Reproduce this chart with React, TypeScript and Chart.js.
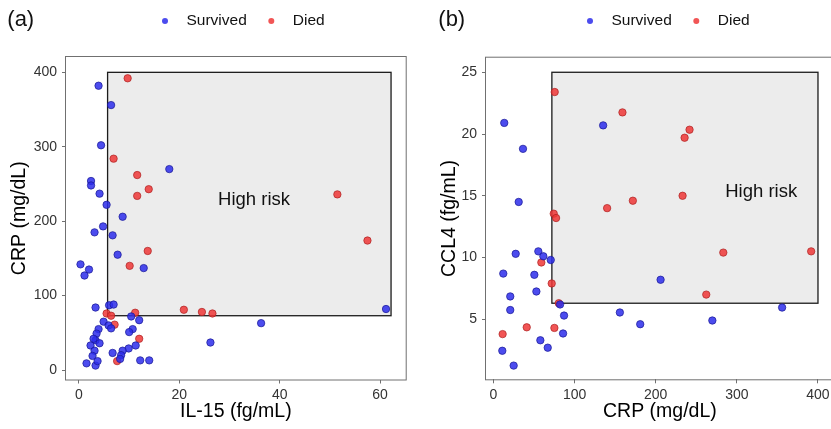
import React, { useEffect, useRef } from 'react';
import { Chart, registerables } from 'chart.js';

Chart.register(...registerables);

const FONT = '"Liberation Sans", Arial, sans-serif';

// ---------- Panel (a): IL-15 vs CRP ----------
const aSurvivedIL15 = [3.9, 6.4, 4.4, 2.4, 2.4, 4.1, 5.5, 8.7, 4.8, 3.1, 6.7, 7.7, 0.3, 2.0, 1.1, 12.9, 3.3, 6.0, 6.9, 4.9, 5.9, 6.4, 10.4, 12.0, 3.9, 3.5, 3.3, 2.9, 10.7, 10.0, 4.1, 2.3, 3.1, 2.7, 11.3, 9.9, 8.7, 8.4, 6.7, 8.2, 1.5, 3.3, 3.7, 12.2, 14.0, 18.0, 26.2, 36.3, 61.2];
const aSurvivedCRP = [382, 356, 302, 254, 248, 237, 222, 206, 193, 185, 181, 155, 142, 135, 127, 137, 84, 87, 88, 65, 60, 56, 72, 67, 55, 49, 40, 42, 55, 51, 36, 33, 26, 19, 33, 29, 26, 20, 23, 15, 9, 6, 12, 13, 13, 270, 37, 63, 82];
const aDiedIL15 = [9.7, 6.9, 11.6, 13.9, 11.6, 13.7, 10.1, 5.5, 6.4, 11.2, 7.1, 12.0, 7.6, 20.9, 24.5, 26.6, 51.5, 57.5];
const aDiedCRP = [392, 284, 262, 243, 234, 160, 140, 76, 73, 77, 61, 42, 12, 81, 78, 76, 236, 174];
const aXTicks = [0, 20, 40, 60];
const aYTicks = [0, 100, 200, 300, 400];
const aRiskX = [5.7, 62.2];
const aRiskY = [73, 400];
const aLabelAt = [34.9, 228];

// ---------- Panel (b): CRP vs CCL4 ----------
const bSurvivedCRP = [13.3, 36.4, 31.1, 27.4, 12.1, 20.7, 20.7, 10.9, 24.9, 55.3, 61.5, 70.6, 50.4, 52.9, 57.8, 66.9, 82.1, 87.0, 85.8, 135.2, 206, 155.8, 180.9, 269.8, 355.8];
const bSurvivedCCL4 = [20.9, 18.8, 14.5, 10.3, 8.7, 6.85, 5.75, 2.45, 1.25, 10.5, 10.1, 9.8, 8.6, 7.25, 3.3, 2.7, 6.2, 5.3, 3.85, 20.7, 8.2, 5.55, 4.6, 4.9, 5.95];
const bDiedCRP = [75.5, 74.3, 77.2, 59.0, 71.8, 80.5, 11.3, 41.0, 75.1, 159, 241.7, 235.6, 140.1, 171.8, 233.1, 283.3, 391.6, 262.3];
const bDiedCCL4 = [23.4, 13.55, 13.2, 9.6, 7.9, 6.3, 3.8, 4.35, 4.3, 21.75, 20.35, 19.7, 14.0, 14.6, 15.0, 10.4, 10.5, 7.0];
const bXTicks = [0, 100, 200, 300, 400];
const bYTicks = [5, 10, 15, 20, 25];
const bRiskX = [72, 400];
const bRiskY = [6.3, 25];
const bLabelAt = [330, 15.3];

const seriesNames = ['Survived', 'Died'];
const BLUE_FILL = 'rgba(45,45,235,0.85)';
const BLUE_EDGE = 'rgba(25,25,150,0.9)';
const RED_FILL = 'rgba(238,55,55,0.85)';
const RED_EDGE = 'rgba(170,30,30,0.85)';

type PanelCfg = {
  tag: string;
  left: number;
  width: number;
  padTop: number;
  padRight: number;
  yWidth: number;
  bottom: number;
  xMin: number; xMax: number; yMin: number; yMax: number;
  xTicks: number[]; yTicks: number[];
  xTitle: string; yTitle: string;
  yTitlePad: number;
  sx: number[]; sy: number[]; dx: number[]; dy: number[];
  riskX: number[]; riskY: number[]; labelAt: number[];
  legendX: number; tagX: number;
};

const H = 429;

function Panel({ cfg }: { cfg: PanelCfg }) {
  const ref = useRef<HTMLCanvasElement | null>(null);
  useEffect(() => {
    const canvas = ref.current!;
    const decor = {
      id: 'decor',
      beforeDatasetsDraw(chart: any) {
        const { ctx, chartArea: ca } = chart;
        const x = chart.scales.x, y = chart.scales.y;
        ctx.save();
        const l = x.getPixelForValue(cfg.riskX[0]);
        const r = x.getPixelForValue(cfg.riskX[1]);
        const t = y.getPixelForValue(cfg.riskY[1]);
        const b = y.getPixelForValue(cfg.riskY[0]);
        ctx.fillStyle = '#ececec';
        ctx.fillRect(l, t, r - l, b - t);
        ctx.strokeStyle = '#1c1c1c';
        ctx.lineWidth = 1.3;
        ctx.strokeRect(l, t, r - l, b - t);
        ctx.fillStyle = '#111';
        ctx.font = `18.5px ${FONT}`;
        ctx.textAlign = 'center';
        ctx.textBaseline = 'middle';
        ctx.fillText('High risk', x.getPixelForValue(cfg.labelAt[0]), y.getPixelForValue(cfg.labelAt[1]));
        ctx.strokeStyle = '#707070';
        ctx.lineWidth = 1;
        ctx.strokeRect(ca.left - 0.5, ca.top - 0.5, ca.right - ca.left + 1, ca.bottom - ca.top + 1);
        ctx.restore();
      },
      afterDraw(chart: any) {
        const { ctx } = chart;
        ctx.save();
        ctx.textBaseline = 'middle';
        ctx.textAlign = 'left';
        ctx.fillStyle = '#111';
        ctx.font = `22px ${FONT}`;
        ctx.fillText(cfg.tag, cfg.tagX, 20);
        ctx.font = `15.5px ${FONT}`;
        let px = cfg.legendX;
        const ly = 21;
        chart.data.datasets.forEach((ds: any, i: number) => {
          ctx.beginPath();
          ctx.arc(px, ly, 3, 0, Math.PI * 2);
          ctx.fillStyle = ds.backgroundColor;
          ctx.fill();
          ctx.fillStyle = '#111';
          ctx.fillText(ds.label, px + 21.5, ly);
          px += 21.5 + ctx.measureText(ds.label).width + 24.5;
        });
        ctx.restore();
      },
    };
    const tickFont = { family: FONT, size: 14 };
    const titleFont = { family: FONT, size: 19.5 };
    const chart = new Chart(canvas, {
      type: 'scatter',
      data: {
        datasets: [
          {
            label: seriesNames[0],
            data: cfg.sx.map((v, i) => ({ x: v, y: cfg.sy[i] })),
            backgroundColor: BLUE_FILL,
            borderColor: BLUE_EDGE,
            borderWidth: 0.8,
            pointRadius: 3.7,
          },
          {
            label: seriesNames[1],
            data: cfg.dx.map((v, i) => ({ x: v, y: cfg.dy[i] })),
            backgroundColor: RED_FILL,
            borderColor: RED_EDGE,
            borderWidth: 0.8,
            pointRadius: 3.7,
          },
        ],
      },
      options: {
        responsive: false,
        animation: false,
        events: [],
        layout: { padding: { top: cfg.padTop, right: cfg.padRight, bottom: 0, left: 0 } },
        plugins: { legend: { display: false }, tooltip: { enabled: false } },
        scales: {
          x: {
            type: 'linear',
            min: cfg.xMin,
            max: cfg.xMax,
            afterFit: (s: any) => { s.height = H - cfg.bottom; },
            afterBuildTicks: (s: any) => { s.ticks = cfg.xTicks.map((v) => ({ value: v })); },
            grid: { drawOnChartArea: false, drawTicks: true, tickLength: 4, color: '#707070', tickColor: '#707070' },
            border: { display: false },
            ticks: { font: tickFont, color: '#333', padding: 3, maxRotation: 0, autoSkip: false },
            title: { display: true, text: cfg.xTitle, font: titleFont, color: '#000', padding: { top: 0, bottom: 5.3 } },
          },
          y: {
            type: 'linear',
            min: cfg.yMin,
            max: cfg.yMax,
            afterFit: (s: any) => { s.width = cfg.yWidth; },
            afterBuildTicks: (s: any) => { s.ticks = cfg.yTicks.map((v) => ({ value: v })); },
            grid: { drawOnChartArea: false, drawTicks: true, tickLength: 4, color: '#707070', tickColor: '#707070' },
            border: { display: false },
            ticks: { font: tickFont, color: '#333', padding: 5, autoSkip: false },
            title: { display: true, text: cfg.yTitle, font: titleFont, color: '#000', padding: { top: cfg.yTitlePad, bottom: 0 } },
          },
        },
      } as any,
      plugins: [decor],
    });
    return () => chart.destroy();
  }, [cfg]);
  return (
    <canvas
      ref={ref}
      width={cfg.width}
      height={H}
      style={{ position: 'absolute', left: cfg.left, top: 0, width: cfg.width, height: H, display: 'block' }}
    />
  );
}

const panelA: PanelCfg = {
  tag: '(a)', left: 0, width: 415, padTop: 57, padRight: 9.3, yWidth: 66, bottom: 379.5,
  xMin: -2.59, xMax: 65.12, yMin: -12.7, yMax: 420.6,
  xTicks: aXTicks, yTicks: aYTicks,
  xTitle: 'IL-15 (fg/mL)', yTitle: 'CRP (mg/dL)', yTitlePad: 8.3,
  sx: aSurvivedIL15, sy: aSurvivedCRP, dx: aDiedIL15, dy: aDiedCRP,
  riskX: aRiskX, riskY: aRiskY, labelAt: aLabelAt,
  legendX: 165, tagX: 7.3,
};

const panelB: PanelCfg = {
  tag: '(b)', left: 415, width: 425, padTop: 57.7, padRight: 6.2, yWidth: 71, bottom: 379.3,
  xMin: -9.2, xMax: 419.5, yMin: 0.14, yMax: 26.18,
  xTicks: bXTicks, yTicks: bYTicks,
  xTitle: 'CRP (mg/dL)', yTitle: 'CCL4 (fg/mL)', yTitlePad: 22.8,
  sx: bSurvivedCRP, sy: bSurvivedCCL4, dx: bDiedCRP, dy: bDiedCCL4,
  riskX: bRiskX, riskY: bRiskY, labelAt: bLabelAt,
  legendX: 175, tagX: 23.3,
};

export default function App() {
  return (
    <div style={{ position: 'absolute', left: 0, top: 0, width: 831, height: H, overflow: 'hidden', background: '#fff' }}>
      <Panel cfg={panelA} />
      <Panel cfg={panelB} />
    </div>
  );
}
